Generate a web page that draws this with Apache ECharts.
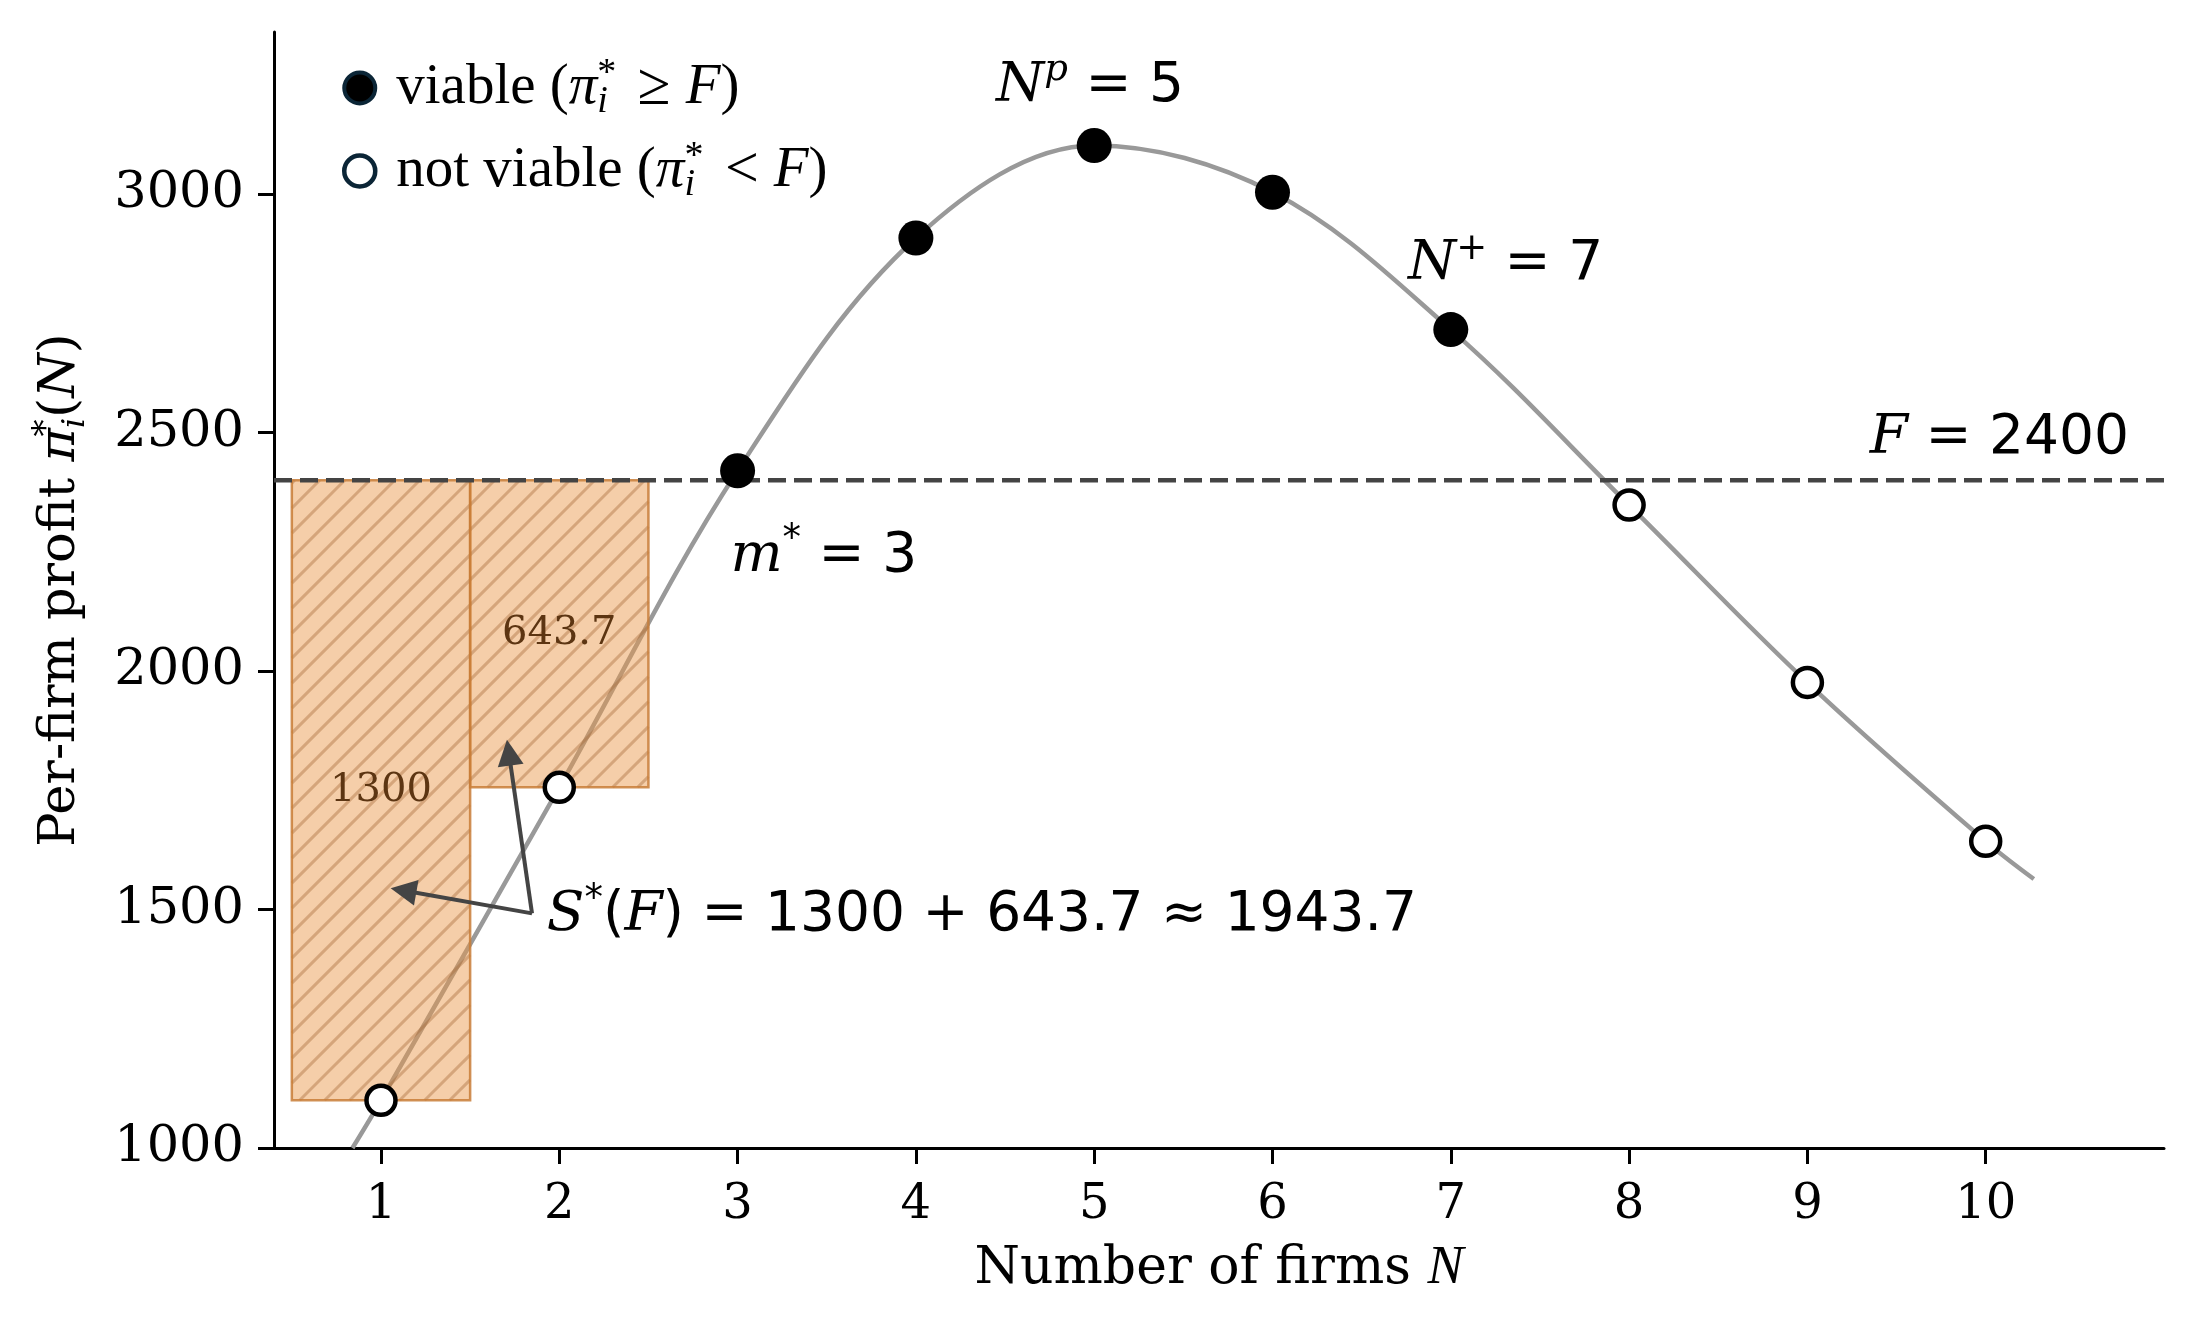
<!DOCTYPE html>
<html><head><meta charset="utf-8">
<script src="https://cdn.jsdelivr.net/npm/echarts@6/dist/echarts.min.js"></script>
<style>html,body{margin:0;padding:0;background:#fff}#c{width:2200px;height:1337px}</style>
</head><body><div id="c"></div>
<script>
// ---- data ----
const firms = [1, 2, 3, 4, 5, 6, 7, 8, 9, 10];
const profit = [1100, 1756.3, 2420, 2908, 3102, 3004, 2716, 2348, 1976, 1643];
const viableFlags = [false, false, true, true, true, true, true, false, false, false];
const curveN = [0.84, 1, 2, 3, 4, 5, 6, 7, 8, 9, 10, 10.27];
const curveProfit = [1000, 1100, 1756.3, 2420, 2908, 3102, 3004, 2716, 2348, 1976, 1643, 1564];
const fixedCost = 2400;
const surplusN = [1, 2];
const surplusLow = [1100, 1756.3];
const surplusLabels = ['1300', '643.7'];
const xTicks = [1, 2, 3, 4, 5, 6, 7, 8, 9, 10];
const yTicks = [1000, 1500, 2000, 2500, 3000];
const arrowFrom = [1.847, 1492];
const arrowTo1 = [1.126, 1540];
const arrowTo2 = [1.717, 1829];

const SERIF = '"DejaVu Serif", serif';
const TIMES = '"Liberation Serif", "Times New Roman", serif';
const SANS = '"DejaVu Sans", sans-serif';

const viablePts = [], notViablePts = [];
firms.forEach((n, i) => (viableFlags[i] ? viablePts : notViablePts).push([n, profit[i]]));
const curve = curveN.map((n, i) => [n, curveProfit[i]]);
const bars = surplusN.map((n, i) => [n, surplusLow[i], fixedCost, i]);

const mathRich = (fs) => ({
  t: { fontFamily: SANS, fontSize: fs, lineHeight: Math.round(fs * 1.25), color: '#000' },
  mi: { fontFamily: SERIF, fontStyle: 'italic', fontSize: fs, lineHeight: Math.round(fs * 1.25), color: '#000' },
  sup: { fontFamily: SANS, fontSize: Math.round(fs * 0.68), lineHeight: Math.round(fs * 0.72), verticalAlign: 'top', color: '#000' },
  supi: { fontFamily: SERIF, fontStyle: 'italic', fontSize: Math.round(fs * 0.68), lineHeight: Math.round(fs * 0.72), verticalAlign: 'top', color: '#000' }
});

const notes = [
  { pos: [4.45, 3226], text: '{mi|N}{supi|p}{t| = 5}' },
  { pos: [6.76, 2851], text: '{mi|N}{sup|+}{t| = 7}' },
  { pos: [2.96, 2240], text: '{mi|m}{sup|*}{t| = 3}' },
  { pos: [9.35, 2488], text: '{mi|F}{t| = 2400}' },
  { pos: [1.93, 1486], text: '{mi|S}{sup|*}{t|(}{mi|F}{t|) = 1300 + 643.7 ≈ 1943.7}' }
];

const chart = echarts.init(document.getElementById('c'), null, { renderer: 'canvas' });
const legendRich = {
  t: { fontFamily: TIMES, fontSize: 57, lineHeight: 66, color: '#000' },
  lead: { fontFamily: TIMES, fontSize: 57, lineHeight: 66, width: 16 },
  mi: { fontFamily: TIMES, fontStyle: 'italic', fontSize: 57, lineHeight: 66, color: '#000' },
  rel: { fontFamily: TIMES, fontSize: 60, lineHeight: 66, color: '#000' },
  sup: { fontFamily: TIMES, fontSize: 38, lineHeight: 40, verticalAlign: 'top', width: 0, color: '#000' },
  sub: { fontFamily: TIMES, fontStyle: 'italic', fontSize: 38, lineHeight: 44, verticalAlign: 'bottom', color: '#000' }
};

chart.setOption({
  animation: false,
  backgroundColor: '#fff',
  grid: { left: 274, right: 36, top: 32, bottom: 189, containLabel: false },
  legend: {
    left: 337, top: 50, orient: 'vertical', itemGap: 17,
    itemWidth: 31, itemHeight: 31, selectedMode: false,
    data: [
      { name: 'viable', icon: 'circle', itemStyle: { color: '#000', borderColor: '#0b2536', borderWidth: 4 } },
      { name: 'not viable', icon: 'circle', itemStyle: { color: '#fff', borderColor: '#0b2536', borderWidth: 4.5 } }
    ],
    formatter: name => name === 'viable'
      ? '{lead|}{t|viable (}{mi|π}{sup|*}{sub|i}{rel|  ≥ }{mi|F}{t|)}'
      : '{lead|}{t|not viable (}{mi|π}{sup|*}{sub|i}{rel|  < }{mi|F}{t|)}',
    textStyle: { rich: legendRich }
  },
  xAxis: {
    type: 'value', min: 0.4, max: 11.0,
    name: '{t|Number of firms }{mi|N}', nameLocation: 'middle', nameGap: 90,
    nameTextStyle: { rich: {
      t: { fontFamily: SERIF, fontSize: 52, lineHeight: 62, color: '#000' },
      mi: { fontFamily: TIMES, fontStyle: 'italic', fontSize: 54, lineHeight: 62, color: '#000' } } },
    splitLine: { show: false },
    axisLine: { lineStyle: { color: '#000', width: 3 } },
    axisTick: { length: 16, lineStyle: { color: '#000', width: 3 }, customValues: xTicks },
    axisLabel: { customValues: xTicks, fontFamily: SERIF, fontSize: 48, color: '#000', margin: 34,
      formatter: v => String(v) }
  },
  yAxis: {
    type: 'value', min: 1000, max: 3340,
    name: '{t|Per-firm profit }{mi|π}{sup|*}{sub|i}{t|(}{mi|N}{t|)}', nameLocation: 'middle', nameGap: 182, nameRotate: 90,
    nameTextStyle: { rich: {
      t: { fontFamily: SERIF, fontSize: 51, lineHeight: 62, color: '#000' },
      mi: { fontFamily: SERIF, fontStyle: 'italic', fontSize: 51, lineHeight: 62, color: '#000' },
      sup: { fontFamily: SERIF, fontSize: 34, lineHeight: 36, verticalAlign: 'top', width: 0, color: '#000' },
      sub: { fontFamily: SERIF, fontStyle: 'italic', fontSize: 32, lineHeight: 38, verticalAlign: 'bottom', color: '#000' } } },
    splitLine: { show: false },
    axisLine: { lineStyle: { color: '#000', width: 3 } },
    axisTick: { length: 16, lineStyle: { color: '#000', width: 3 }, customValues: yTicks },
    axisLabel: { customValues: yTicks, fontFamily: SERIF, fontSize: 51, color: '#000', margin: 30,
      formatter: v => String(v) }
  },
  series: [
    {
      name: 'curve', type: 'line', data: curve, smooth: 0.35, showSymbol: false, clip: true,
      lineStyle: { color: '#999999', width: 4.5 }, z: 2, silent: true
    },
    {
      name: 'surplus', type: 'custom', data: bars, z: 3, silent: true,
      renderItem: (params, api) => {
        const n = api.value(0), low = api.value(1), high = api.value(2), idx = api.value(3);
        const p1 = api.coord([n - 0.5, high]);
        const p2 = api.coord([n + 0.5, low]);
        const x0 = p1[0], y0 = p1[1], x1 = p2[0], y1 = p2[1];
        const shape = { x: x0, y: y0, width: x1 - x0, height: y1 - y0 };
        const mid = api.coord([n, (low + high) / 2]);
        const children = [
          { type: 'rect', shape, style: { fill: 'rgba(233,150,72,0.47)', stroke: 'none' } }
        ];
        const step = 25;
        const cStart = Math.ceil((x0 + y0) / step) * step;
        for (let c = cStart; c <= x1 + y1; c += step) {
          const xa = Math.max(x0, c - y1), xb = Math.min(x1, c - y0);
          if (xb <= xa) continue;
          children.push({ type: 'line', shape: { x1: xa, y1: c - xa, x2: xb, y2: c - xb },
            style: { stroke: 'rgba(165,105,55,0.40)', lineWidth: 3 } });
        }
        children.push({ type: 'rect', shape, style: { fill: 'none', stroke: 'rgba(200,125,55,0.85)', lineWidth: 2.5 } });
        children.push({ type: 'text', x: mid[0], y: mid[1], style: { text: surplusLabels[idx], font: '40px ' + SERIF, fill: '#5c3512', align: 'center', verticalAlign: 'middle' } });
        return { type: 'group', children };
      }
    },
    {
      name: 'F', type: 'line', data: [[0.4, fixedCost], [11.0, fixedCost]], showSymbol: false, z: 4, silent: true,
      lineStyle: { color: '#444444', width: 4.5, type: [18, 8] }
    },
    {
      name: 'arrows', type: 'lines', coordinateSystem: 'cartesian2d', z: 5, silent: true,
      symbol: ['none', 'triangle'], symbolSize: 26,
      lineStyle: { color: '#444444', width: 4, opacity: 1 },
      data: [{ coords: [arrowFrom, arrowTo1] }, { coords: [arrowFrom, arrowTo2] }]
    },
    {
      name: 'viable', type: 'scatter', data: viablePts, symbol: 'circle', symbolSize: 35, z: 6,
      itemStyle: { color: '#000', opacity: 1 }
    },
    {
      name: 'not viable', type: 'scatter', data: notViablePts, symbol: 'circle', symbolSize: 29, z: 6,
      itemStyle: { color: '#fff', borderColor: '#000', borderWidth: 4.5, opacity: 1 }
    },
    {
      name: 'notes', type: 'scatter', symbolSize: 0, z: 7, silent: true,
      data: notes.map(o => ({ value: o.pos, label: { formatter: o.text } })),
      label: { show: true, position: 'right', distance: 0, color: '#000', opacity: 1, rich: mathRich(55) }
    }
  ]
});
</script></body></html>
